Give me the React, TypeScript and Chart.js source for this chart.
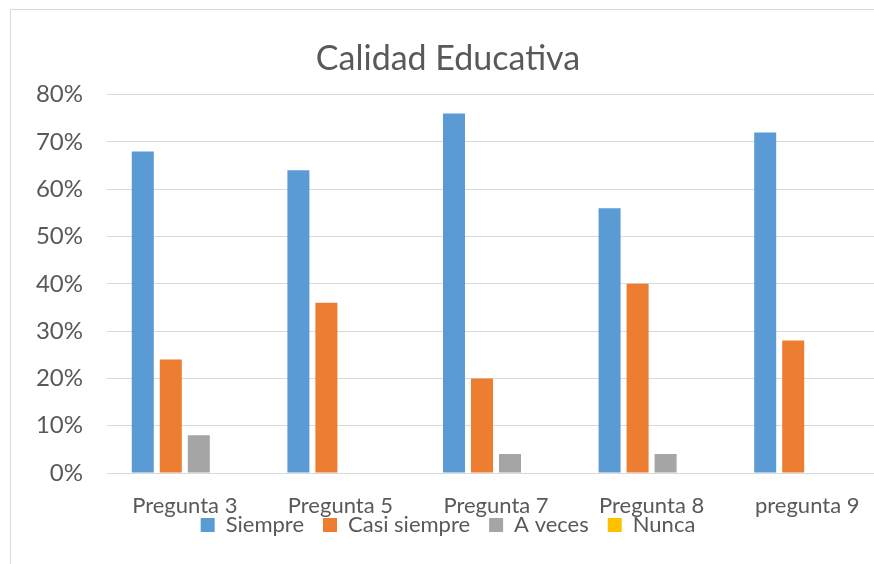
import React, { useEffect, useRef } from "react";
import { Chart, registerables } from "chart.js";

Chart.register(...registerables);

const categories = ["Pregunta 3", "Pregunta 5", "Pregunta 7", "Pregunta 8", "pregunta 9"];
const siempre = [68, 64, 76, 56, 72];
const casiSiempre = [24, 36, 20, 40, 28];
const aVeces = [8, 0, 4, 4, 0];
const nunca = [0, 0, 0, 0, 0];
const seriesNames = ["Siempre", "Casi siempre", "A veces", "Nunca"];
const yTicks = [0, 10, 20, 30, 40, 50, 60, 70, 80];
const title = "Calidad Educativa";

const COLORS = ["#5B9BD5", "#ED7D31", "#A5A5A5", "#FFC000"];
const TEXT = "#595959";
const GRID = "#D9D9D9";
const FONT = "Lato, 'Open Sans', sans-serif";

const LEGEND_SHIFT = 43;
const CANVAS_W = 874;
const CANVAS_H = 579;

const legendShift = {
  id: "legendShift",
  afterLayout(chart: any) {
    const l = chart.legend;
    if (!l) return;
    l.top -= LEGEND_SHIFT;
    l.bottom -= LEGEND_SHIFT;
    if (l.legendHitBoxes) l.legendHitBoxes.forEach((h: any) => (h.top -= LEGEND_SHIFT));
  },
};

export default function App() {
  const ref = useRef<HTMLCanvasElement | null>(null);

  useEffect(() => {
    if (!ref.current) return;
    const series = [siempre, casiSiempre, aVeces, nunca];
    const chart = new Chart(ref.current, {
      type: "bar",
      data: {
        labels: categories,
        datasets: series.map((d, i) => ({
          label: seriesNames[i],
          data: d,
          backgroundColor: COLORS[i],
          borderWidth: 0,
          categoryPercentage: 0.72,
          barPercentage: 0.786,
        })),
      },
      plugins: [legendShift],
      options: {
        responsive: false,
        animation: false,
        devicePixelRatio: 1,
        layout: { padding: { left: 0, right: 0, top: 0, bottom: 0 } },
        plugins: {
          title: {
            display: true,
            text: title,
            color: TEXT,
            font: { family: FONT, size: 34, weight: "normal", lineHeight: 1.2 },
            padding: { top: 28.3, bottom: 15.6 },
          },
          legend: {
            display: true,
            position: "bottom",
            labels: {
              color: TEXT,
              font: { family: FONT, size: 22 },
              boxWidth: 14,
              boxHeight: 14,
              padding: 19,
            },
          },
          tooltip: { enabled: false },
        },
        scales: {
          x: {
            grid: { display: false, drawTicks: false },
            border: { display: true, color: GRID, width: 1 },
            ticks: {
              color: TEXT,
              font: { family: FONT, size: 22, lineHeight: 1.2 },
              padding: 19.3,
              maxRotation: 0,
              autoSkip: false,
            },
          },
          y: {
            min: 0,
            max: 80,
            afterBuildTicks: (scale: any) => {
              scale.ticks = yTicks.map((v) => ({ value: v }));
            },
            grid: { color: GRID, lineWidth: 1, drawTicks: false },
            border: { display: false },
            ticks: {
              color: TEXT,
              font: { family: FONT, size: 24 },
              padding: 24,
              callback: (v: any) => `${v}%`,
            },
            afterFit: (scale: any) => {
              scale.width = 96;
            },
          },
        },
      },
    });
    return () => chart.destroy();
  }, []);

  return (
    <div
      style={{
        position: "fixed",
        left: 0,
        top: 0,
        width: 874,
        height: 564,
        overflow: "hidden",
        background: "#fff",
      }}
    >
      <div
        style={{
          position: "absolute",
          left: 10,
          top: 9,
          width: 900,
          height: 600,
          borderLeft: `1px solid ${GRID}`,
          borderTop: `1px solid ${GRID}`,
        }}
      />
      <div style={{ position: "absolute", left: 11, top: 10, width: CANVAS_W, height: CANVAS_H }}>
        <canvas ref={ref} width={CANVAS_W} height={CANVAS_H} style={{ width: CANVAS_W, height: CANVAS_H }} />
      </div>
    </div>
  );
}
